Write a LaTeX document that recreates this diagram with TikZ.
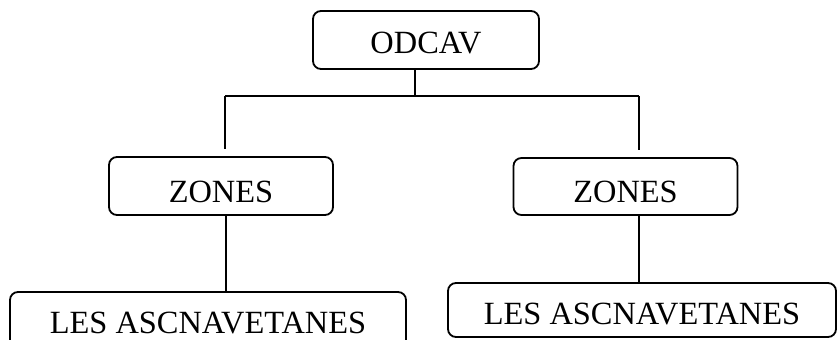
\documentclass[tikz,border=0pt]{standalone}
\usepackage{fontspec}
\setmainfont{Liberation Serif}
\usepackage{tikz}
\usetikzlibrary{positioning}

\begin{document}
\begin{tikzpicture}
            [x=0.5pt,y=-0.5pt,line width=0.9pt,every node/.style={draw, rounded corners=4pt, inner sep=0pt, text depth=0pt, font=\fontsize{16.2}{19}\selectfont}]
          \useasboundingbox (0,0) rectangle (838,340);
          \clip (0,0) rectangle (838,340);

          \node[minimum width=113pt, minimum height=29pt, text height=13.2pt] (odcav) at (426,40) {ODCAV};
          \node[minimum width=112pt, minimum height=29pt, text height=16.2pt] (zl) at (221,186) {ZONES};
          \node[minimum width=112pt, minimum height=28.5pt, text height=16.2pt] (zr) at (625.5,186.5) {ZONES};
          \node[minimum width=198pt, minimum height=29pt, text height=12.2pt] (al) at (208,321) {LES ASCNAVETANES};
          \node[minimum width=194pt, minimum height=27pt, text height=14.7pt] (ar) at (642,310) {LES ASCNAVETANES};

          \coordinate (top) at (415,96);
          \coordinate (bl) at (225,96);
          \coordinate (br) at (639,96);

          \draw (odcav.south -| top) -- (top);
          \draw (bl) -- (br);

          \foreach \from/\to in {bl/zl, br/zr}
            \draw[shorten >=3.5pt] (\from) -- (\from |- \to.north);

          \foreach \from/\to/\dx in {zl/al/2.5pt, zr/ar/6.75pt}
            \draw ([xshift=\dx]\from.south) -- ([xshift=\dx]\from.south |- \to.north);
        \end{tikzpicture}
\end{document}
